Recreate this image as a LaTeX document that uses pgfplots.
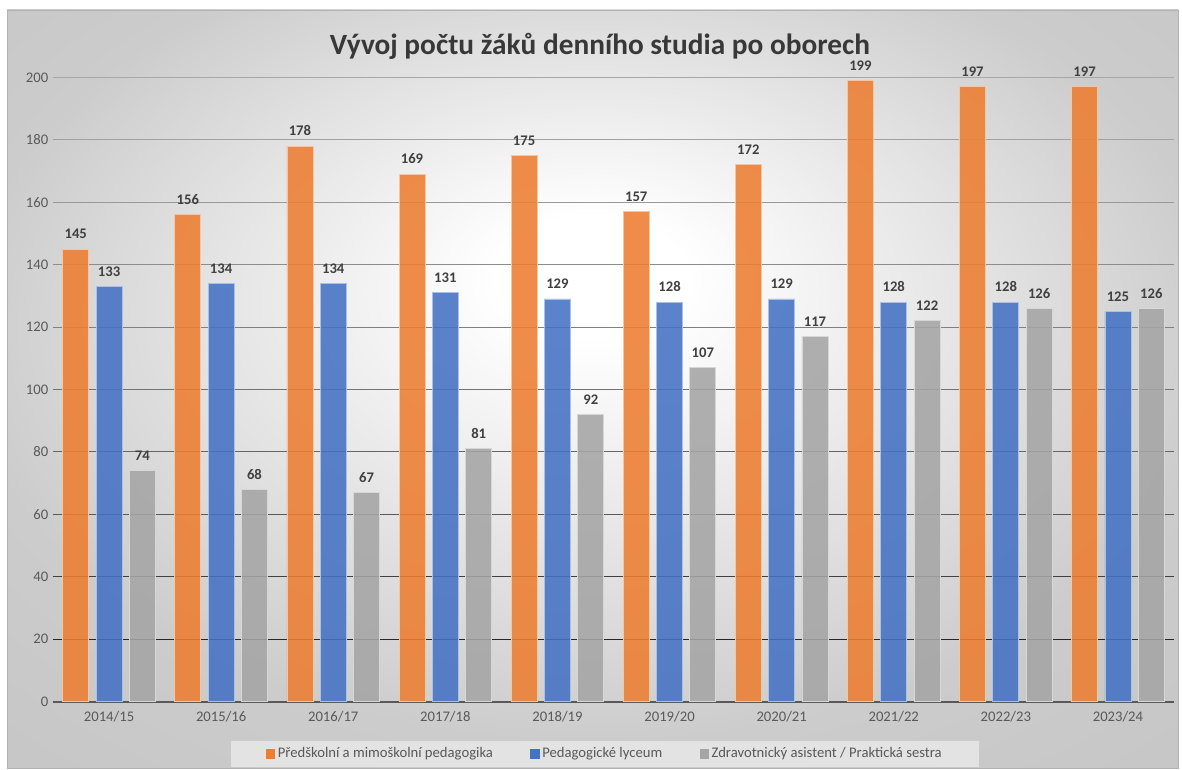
\documentclass[border=0pt]{standalone}
\usepackage{pgfplots}
\pgfplotsset{compat=1.18}
\usepackage{fontspec}
\setmainfont{Carlito}
\definecolor{cOr}{HTML}{ED7D31}
\definecolor{cBl}{HTML}{4472C4}
\definecolor{cGr}{HTML}{A5A5A5}
\definecolor{txt}{HTML}{595959}
\definecolor{lbl}{HTML}{404040}
\pgfdeclareradialshading{bgshade}{\pgfpoint{0bp}{8bp}}{color(0bp)=(white); color(4bp)=(white); color(27bp)=(black!20); color(45bp)=(black!24); color(50bp)=(black!24)}
\begin{document}
\begin{tikzpicture}[x=1pt,y=1pt]
\useasboundingbox (0,0) rectangle (886.5,577.5);
\fill[white] (0,0) rectangle (886.5,577.5);
\shade[shading=bgshade] (5.25,1.5) rectangle (883.5,570);
\draw[black!30, line width=0.6pt] (5.25,1.5) rectangle (883.5,570);
\node[font=\bfseries\fontsize{22}{26}\selectfont, text=black!78] at (450,543) {Vývoj počtu žáků denního studia po oborech};
\begin{axis}[
  at={(39.75pt,51.2pt)}, anchor=south west,
  scale only axis, width=840.75pt, height=468.3pt,
  xmin=-0.5, xmax=9.5, ymin=0, ymax=200,
  ytick={0,20,...,200},
  xtick={0,...,9},
  xticklabels={2014/15,2015/16,2016/17,2017/18,2018/19,2019/20,2020/21,2021/22,2022/23,2023/24},
  /pgf/number format/assume math mode=true,
  ybar=5.5pt, bar width=19.5pt,
  axis x line*=bottom, axis y line*=left,
  y axis line style={draw=none},
  x axis line style={draw=txt, line width=1.6pt},
  major tick length=0pt,
  tick label style={font=\fontsize{11}{13}\selectfont, text=txt},
  xticklabel style={yshift=-4pt},
  clip=false,
  nodes near coords,
  nodes near coords style={font=\bfseries\fontsize{11}{13}\selectfont, text=lbl, opacity=1, text opacity=1, fill opacity=1, yshift=4pt},
  legend style={at={(0.4925,-0.0835)}, anchor=center, legend columns=3, fill=black!11, draw=none,
    font=\fontsize{11}{13}\selectfont, text=txt, inner xsep=26pt, inner ysep=3pt,
    /tikz/every even column/.append style={column sep=26pt}},
  legend image code/.code={\fill[#1, draw=none, fill opacity=1] (0pt,-3.5pt) rectangle (7pt,3.5pt);},
]
\draw[black!85, line width=0.75pt] (axis cs:-0.5,20) -- (axis cs:9.5,20);
\draw[black!75, line width=0.75pt] (axis cs:-0.5,40) -- (axis cs:9.5,40);
\draw[black!65, line width=0.75pt] (axis cs:-0.5,60) -- (axis cs:9.5,60);
\draw[black!60, line width=0.75pt] (axis cs:-0.5,80) -- (axis cs:9.5,80);
\draw[black!55, line width=0.75pt] (axis cs:-0.5,100) -- (axis cs:9.5,100);
\draw[black!50, line width=0.75pt] (axis cs:-0.5,120) -- (axis cs:9.5,120);
\draw[black!45, line width=0.75pt] (axis cs:-0.5,140) -- (axis cs:9.5,140);
\draw[black!40, line width=0.75pt] (axis cs:-0.5,160) -- (axis cs:9.5,160);
\draw[black!37, line width=0.75pt] (axis cs:-0.5,180) -- (axis cs:9.5,180);
\draw[black!34, line width=0.75pt] (axis cs:-0.5,200) -- (axis cs:9.5,200);
\addplot[fill=cOr, fill opacity=0.88, draw=white!55!cOr, line width=0.6pt] coordinates {(0,145) (1,156) (2,178) (3,169) (4,175) (5,157) (6,172) (7,199) (8,197) (9,197)};
\addplot[fill=cBl, fill opacity=0.88, draw=white!55!cBl, line width=0.6pt] coordinates {(0,133) (1,134) (2,134) (3,131) (4,129) (5,128) (6,129) (7,128) (8,128) (9,125)};
\addplot[fill=cGr, fill opacity=0.88, draw=white!55!cGr, line width=0.6pt] coordinates {(0,74) (1,68) (2,67) (3,81) (4,92) (5,107) (6,117) (7,122) (8,126) (9,126)};
\legend{Předškolní a mimoškolní pedagogika, Pedagogické lyceum, Zdravotnický asistent / Praktická sestra}
\end{axis}
\end{tikzpicture}
\end{document}
